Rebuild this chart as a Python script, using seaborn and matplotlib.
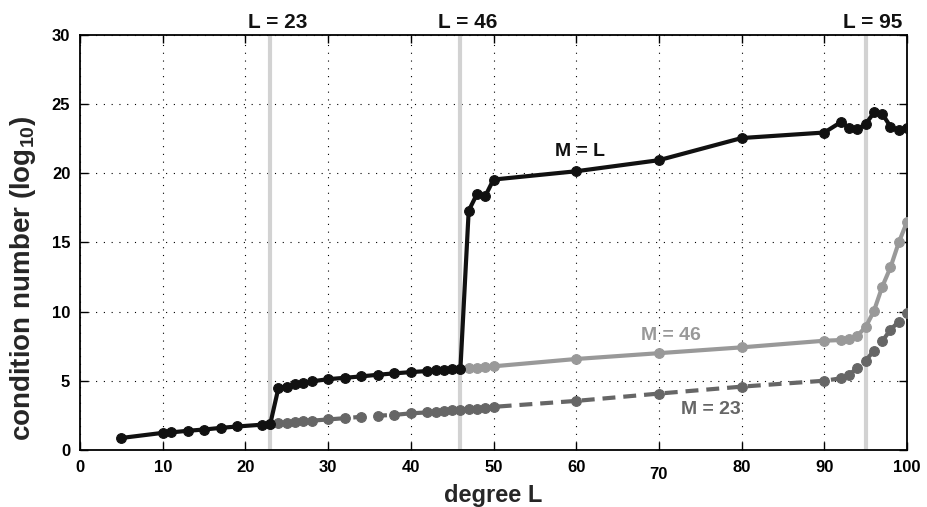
import numpy as np
import pandas as pd
import matplotlib
matplotlib.use("Agg")
import matplotlib.pyplot as plt
import matplotlib.transforms as mtransforms
import seaborn as sns

# ---- data ----
L_ML = [5, 10, 11, 13, 15, 17, 19, 22, 23, 24, 25, 26, 27, 28, 30, 32, 34, 36, 38, 40,
        42, 43, 44, 45, 46, 47, 48, 49, 50, 60, 70, 80, 90, 92, 93, 94, 95, 96, 97, 98, 99, 100]
C_ML = [0.87, 1.24, 1.27, 1.39, 1.48, 1.6, 1.7, 1.83, 1.87, 4.5, 4.58, 4.74, 4.85, 4.96, 5.12, 5.22,
        5.32, 5.44, 5.54, 5.63, 5.71, 5.76, 5.81, 5.86, 5.89, 17.3, 18.5, 18.35, 19.55, 20.15, 20.95,
        22.55, 22.95, 23.7, 23.3, 23.2, 23.55, 24.4, 24.3, 23.38, 23.1, 23.25]

L_M46 = [46, 47, 48, 49, 50, 60, 70, 80, 90, 92, 93, 94, 95, 96, 97, 98, 99, 100]
C_M46 = [5.89, 5.92, 5.96, 6.0, 6.05, 6.58, 7.0, 7.42, 7.9, 7.95, 8.0, 8.27, 8.89, 10.05, 11.8,
         13.2, 15.0, 16.5]

L_M23 = [23, 24, 25, 26, 27, 28, 30, 32, 34, 36, 38, 40, 42, 43, 44, 45, 46, 47, 48, 49, 50,
         60, 70, 80, 90, 92, 93, 94, 95, 96, 97, 98, 99, 100]
C_M23 = [1.87, 1.93, 1.98, 2.03, 2.07, 2.12, 2.21, 2.3, 2.4, 2.48, 2.54, 2.65, 2.72, 2.76, 2.82,
         2.87, 2.92, 2.95, 2.99, 3.05, 3.12, 3.55, 4.08, 4.58, 5.01, 5.18, 5.45, 5.93, 6.46, 7.18,
         7.86, 8.7, 9.28, 9.93]

vlines = [23, 46, 95]
vline_labels = ["L = 23", "L = 46", "L = 95"]
xticks = list(range(0, 101, 10))
yticks = list(range(0, 31, 5))

# ---- style ----
sns.set_theme(style="ticks")
plt.rcParams['font.family'] = ['Liberation Sans', 'DejaVu Sans']
plt.rcParams['font.weight'] = 'bold'
plt.rcParams['mathtext.fontset'] = 'custom'
plt.rcParams['mathtext.bf'] = 'Liberation Sans:bold'
plt.rcParams['mathtext.rm'] = 'Liberation Sans:bold'

fig = plt.figure(figsize=(9.28, 5.07), dpi=100)
ax = fig.add_axes([0.0862, 0.1124, 0.8912, 0.8186])

black = "#111111"
light = "#999999"
dark = "#666666"
vcol = "#d2d2d2"

for v in vlines:
    ax.axvline(v, color=vcol, lw=3, zorder=1)

ax.grid(True, which='major', linestyle=(0, (1, 6)), color='black', lw=0.8, zorder=0)

df23 = pd.DataFrame({"L": L_M23, "c": C_M23})
df46 = pd.DataFrame({"L": L_M46, "c": C_M46})
dfL = pd.DataFrame({"L": L_ML, "c": C_ML})

kw = dict(lw=3, marker="o", markersize=7, markeredgewidth=0.8)
sns.lineplot(data=df23, x="L", y="c", ax=ax, color=dark, markeredgecolor=dark,
             linestyle=(0, (3.1, 1.9)), zorder=3, **kw)
sns.lineplot(data=df46, x="L", y="c", ax=ax, color=light, markeredgecolor=light, zorder=4, **kw)
sns.lineplot(data=dfL, x="L", y="c", ax=ax, color=black, markeredgecolor=black, zorder=5, **kw)

ax.set_xlim(0, 100)
ax.set_ylim(0, 30)
ax.set_xticks(xticks)
ax.set_yticks(yticks)
ax.tick_params(direction='in', length=6, width=1, top=True, right=True, labelsize=12, pad=7,
               colors='black')
for lab in ax.get_xticklabels() + ax.get_yticklabels():
    lab.set_fontweight('bold')
# the "70" label sits lower in the reference
lab70 = ax.get_xticklabels()[7]
lab70.set_transform(lab70.get_transform() + mtransforms.ScaledTranslation(0, -5 / 72, fig.dpi_scale_trans))

for s in ax.spines.values():
    s.set_visible(True)
    s.set_color('black')
    s.set_linewidth(1.3)

ax.set_xlabel("degree L", fontsize=17, fontweight='bold', labelpad=2)
ax.set_ylabel("condition number (log$_{\\mathbf{10}}$)", fontsize=20, fontweight='bold')
ax.yaxis.set_label_coords(-0.051, 0.414)

for v, t in zip(vlines, vline_labels):
    ax.text(v + 0.9, 30.5, t, ha='center', va='baseline', fontsize=15, fontweight='bold', color=black)

ax.text(60.5, 21.55, "M = L", ha='center', va='center', fontsize=14, fontweight='bold', color=black)
ax.text(71.5, 8.3, "M = 46", ha='center', va='center', fontsize=14, fontweight='bold', color=light)
ax.text(76.3, 2.9, "M = 23", ha='center', va='center', fontsize=14, fontweight='bold', color=dark)

if ax.get_legend() is not None:
    ax.get_legend().remove()

fig.savefig("out.png", dpi=100)
